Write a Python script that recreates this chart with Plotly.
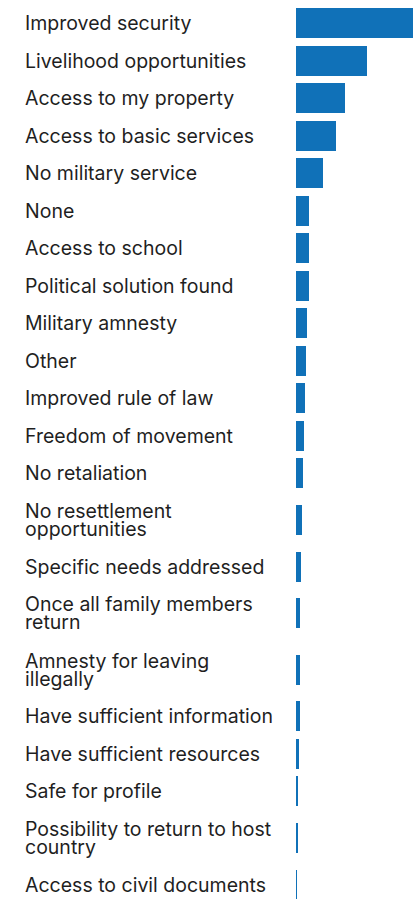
"""Horizontal bar chart of conditions for return."""

import plotly.graph_objects as go

# Data
reasons = [
    "Improved security",
    "Livelihood opportunities",
    "Access to my property",
    "Access to basic services",
    "No military service",
    "None",
    "Access to school",
    "Political solution found",
    "Military amnesty",
    "Other",
    "Improved rule of law",
    "Freedom of movement",
    "No retaliation",
    "No resettlement<br>opportunities",
    "Specific needs addressed",
    "Once all family members<br>return",
    "Amnesty for leaving<br>illegally",
    "Have sufficient information",
    "Have sufficient resources",
    "Safe for profile",
    "Possibility to return to host<br>country",
    "Access to civil documents",
]
shares = [45, 23.7, 16.3, 13.3, 9.0, 4.3, 4.3, 4.2, 3.7, 3.4, 3.0, 2.7,
          2.3, 2.0, 1.8, 1.3, 1.2, 1.2, 1.0, 0.7, 0.7, 0.3]

BAR_COLOR = "#1071B8"
TEXT_COLOR = "#1f1f1f"
FONT = "Inter"

# row heights grow with the number of label lines
row_h = [37.5 + 18.6 * (r.count("<br>")) for r in reasons]
pos = [0.0]
for i in range(1, len(reasons)):
    pos.append(pos[-1] + (row_h[i - 1] + row_h[i]) / 2)

fig = go.Figure(
    data=[
        go.Bar(
            x=shares,
            y=pos,
            orientation="h",
            width=30,
            marker={"color": BAR_COLOR, "line": {"width": 0}},
            hoverinfo="skip",
        )
    ]
)

annotations = []
for label, y in zip(reasons, pos):
    lines = label.split("<br>")
    n = len(lines)
    for k, line in enumerate(lines):
        annotations.append({
            "text": line,
            "xref": "paper",
            "yref": "y",
            "x": -273 / 117,
            "y": y,
            "xanchor": "left",
            "yanchor": "middle",
            "yshift": (n - 1) * 9 - k * 18,
            "showarrow": False,
            "font": {"family": FONT, "size": 19.5, "color": TEXT_COLOR},
        })

fig.update_layout(
    width=413,
    height=899,
    margin={"l": 296, "r": 0, "t": 0, "b": 0},
    showlegend=False,
    plot_bgcolor="white",
    paper_bgcolor="white",
    bargap=0,
    xaxis={"range": [0, 39], "visible": False, "fixedrange": True},
    yaxis={"range": [pos[-1] + 14, -23], "visible": False,
           "fixedrange": True},
    annotations=annotations,
)

fig.write_html("out.html", config={"displayModeBar": False},
               post_script="document.body.style.margin='0';")
